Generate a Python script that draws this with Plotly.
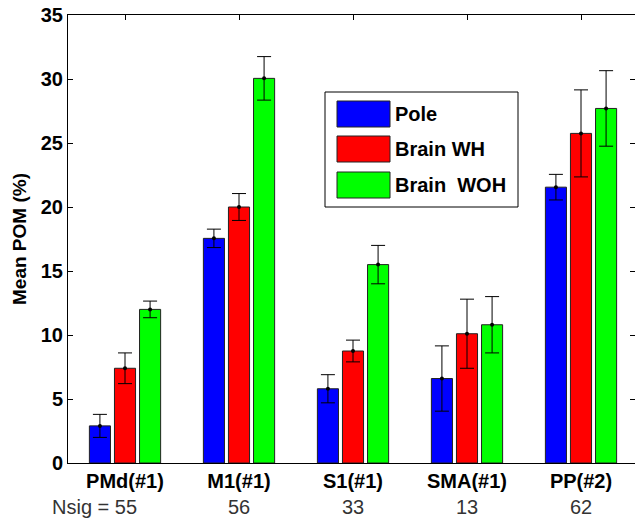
import plotly.graph_objects as go

categories = ["PMd(#1)", "M1(#1)", "S1(#1)", "SMA(#1)", "PP(#2)"]
nsig = [55, 56, 33, 13, 62]
series_names = ["Pole", "Brain WH", "Brain\u00a0 WOH"]
pole = [2.9, 17.55, 5.8, 6.6, 21.55]
pole_err = [0.9, 0.72, 1.1, 2.55, 1.0]
brain_wh = [7.4, 20.0, 8.75, 10.1, 25.75]
brain_wh_err = [1.2, 1.05, 0.85, 2.7, 3.4]
brain_woh = [12.0, 30.05, 15.5, 10.8, 27.7]
brain_woh_err = [0.65, 1.7, 1.5, 2.2, 2.95]
colors = ["#0000FF", "#FF0000", "#00FF00"]
y_ticks = [0, 5, 10, 15, 20, 25, 30, 35]

W, H = 635, 522
ML, MR, MT, MB = 68, 0, 15, 59
PW, PH = W - ML - MR, H - MT - MB
px_per_cat = 114.0
x0 = 0.5
x1 = x0 + PW / px_per_cat
offset = 0.22
bar_w = 0.185
FAM = "Liberation Sans, Arial, sans-serif"

fig = go.Figure()
values = [pole, brain_wh, brain_woh]
errs = [pole_err, brain_wh_err, brain_woh_err]
base_x = list(range(1, len(categories) + 1))
for i, (name, v, e, c) in enumerate(zip(series_names, values, errs, colors)):
    xs = [b + (i - 1) * offset for b in base_x]
    fig.add_trace(go.Bar(x=xs, y=v, width=bar_w, name=name,
                         marker=dict(color=c, line=dict(color="#222222", width=1)),
                         showlegend=False))
    fig.add_trace(go.Scatter(x=xs, y=v, mode="markers",
                             marker=dict(color="black", size=4),
                             error_y=dict(type="data", array=e, visible=True,
                                          color="black", thickness=1, width=7),
                             showlegend=False, hoverinfo="skip"))

tick_font = dict(family=FAM, size=20, color="black")

fig.update_layout(
    width=W, height=H,
    margin=dict(l=ML, r=MR, t=MT, b=MB, pad=0),
    paper_bgcolor="white", plot_bgcolor="white",
    barmode="overlay",
    xaxis=dict(range=[x0, x1], tickvals=base_x,
               ticktext=["<b>%s</b>" % c for c in categories],
               ticks="", showline=True, linecolor="black", linewidth=1,
               mirror=True, showgrid=False, zeroline=False, tickfont=tick_font),
    xaxis2=dict(range=[x0, x1], overlaying="x", side="top", tickvals=base_x,
                showticklabels=False, ticks="inside", ticklen=5, tickcolor="black",
                showline=False, showgrid=False, zeroline=False),
    yaxis=dict(range=[0, 35], tickvals=y_ticks,
               ticktext=["<b>%d</b>" % t for t in y_ticks],
               ticks="inside", ticklen=5, tickcolor="black",
               showline=True, linecolor="black", linewidth=1, mirror=False,
               showgrid=False, zeroline=False, tickfont=tick_font,
               title=dict(text="<b>Mean POM (%)</b>",
                          font=dict(family=FAM, size=19, color="black"),
                          standoff=9)),
    yaxis2=dict(range=[0, 35], overlaying="y", side="right", tickvals=y_ticks,
                showticklabels=False, ticks="inside", ticklen=5, tickcolor="black",
                showline=False, showgrid=False, zeroline=False),
)
# invisible traces to activate the mirrored tick axes
fig.add_trace(go.Scatter(x=[x0], y=[0], xaxis="x2", mode="markers",
                         marker=dict(opacity=0), showlegend=False, hoverinfo="skip"))
fig.add_trace(go.Scatter(x=[x0], y=[0], yaxis="y2", mode="markers",
                         marker=dict(opacity=0), showlegend=False, hoverinfo="skip"))

def px(xp):
    return (xp - ML) / PW

def py(yp):
    return (H - MB - yp) / PH

shapes = []
shapes.append(dict(type="rect", xref="paper", yref="paper",
                   x0=px(325), x1=px(518), y0=py(207), y1=py(92),
                   line=dict(color="black", width=1), fillcolor="white", layer="above"))
sw_tops = [101, 136, 172]
for i, (name, c) in enumerate(zip(series_names, colors)):
    t = sw_tops[i]
    shapes.append(dict(type="rect", xref="paper", yref="paper",
                       x0=px(337), x1=px(390), y0=py(t + 26), y1=py(t),
                       line=dict(color="#222222", width=1), fillcolor=c, layer="above"))
    fig.add_annotation(x=px(393), y=py(t + 13), xref="paper", yref="paper",
                       text="<b>%s</b>" % name, showarrow=False, xanchor="left", yanchor="middle",
                       font=dict(family=FAM, size=20, color="black"))
fig.update_layout(shapes=shapes)

nfont = dict(family=FAM, size=20, color="#333333")
for i, n in enumerate(nsig):
    if i == 0:
        fig.add_annotation(x=base_x[i], y=py(507), xref="x", yref="paper",
                           text="Nsig = %d" % n, showarrow=False, xanchor="right",
                           yanchor="middle", xshift=14, font=nfont)
    else:
        fig.add_annotation(x=base_x[i], y=py(507), xref="x", yref="paper",
                           text=str(n), showarrow=False, xanchor="center",
                           yanchor="middle", font=nfont)

fig.write_html("out.html")
